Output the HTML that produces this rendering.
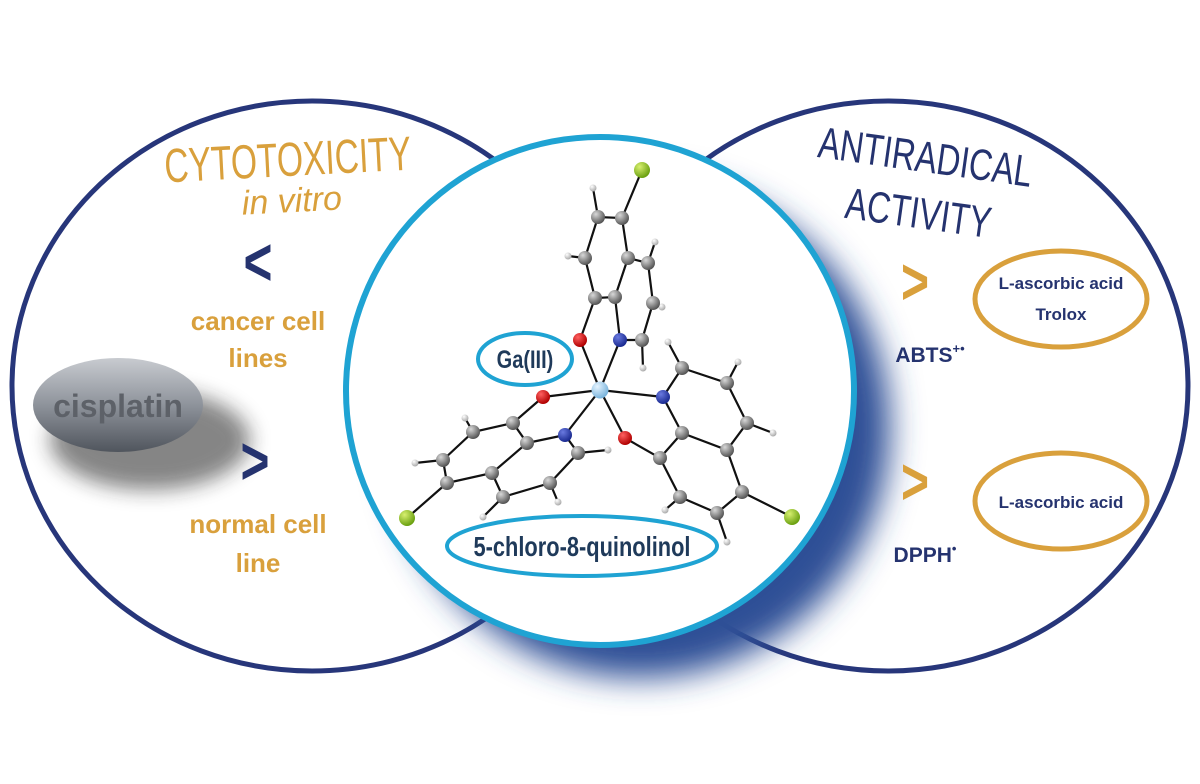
<!DOCTYPE html>
<html><head><meta charset="utf-8"><style>
html,body{margin:0;padding:0;background:#fff;}
svg{display:block;}
.or{fill:#d9a03c;}
.nv{fill:#25336f;}
</style></head><body>
<svg width="1200" height="784" viewBox="0 0 1200 784" xmlns="http://www.w3.org/2000/svg">
<defs>
<filter id="blur" x="-30%" y="-30%" width="160%" height="160%"><feGaussianBlur stdDeviation="16"/></filter>
<filter id="blur2" x="-30%" y="-30%" width="160%" height="160%"><feGaussianBlur stdDeviation="10"/></filter>
<radialGradient id="gC" cx="35%" cy="30%" r="70%"><stop offset="0" stop-color="#d8d8d8"/><stop offset="1" stop-color="#555"/></radialGradient>
<radialGradient id="gH" cx="35%" cy="30%" r="70%"><stop offset="0" stop-color="#fff"/><stop offset="1" stop-color="#aaa"/></radialGradient>
<radialGradient id="gO" cx="35%" cy="30%" r="70%"><stop offset="0" stop-color="#ff6060"/><stop offset="1" stop-color="#b00000"/></radialGradient>
<radialGradient id="gN" cx="35%" cy="30%" r="70%"><stop offset="0" stop-color="#6a7ae0"/><stop offset="1" stop-color="#1a2a90"/></radialGradient>
<radialGradient id="gCl" cx="35%" cy="30%" r="70%"><stop offset="0" stop-color="#d8f070"/><stop offset="1" stop-color="#6aa010"/></radialGradient>
<radialGradient id="gGa" cx="35%" cy="30%" r="70%"><stop offset="0" stop-color="#e6f4ff"/><stop offset="1" stop-color="#7ab4dc"/></radialGradient>
<linearGradient id="gCis" x1="0" y1="0" x2="0" y2="1"><stop offset="0" stop-color="#c8cbd0"/><stop offset="0.5" stop-color="#8e939b"/><stop offset="1" stop-color="#50555d"/></linearGradient>
</defs>

<ellipse cx="312" cy="386" rx="300" ry="285" fill="#fff" stroke="#27367a" stroke-width="5"/>
<ellipse cx="888" cy="386" rx="300" ry="285" fill="#fff" stroke="#27367a" stroke-width="5"/>

<circle cx="640" cy="428" r="250" fill="#2d4f96" filter="url(#blur)"/>
<circle cx="600" cy="391" r="254" fill="#fff" stroke="#1fa3d3" stroke-width="6"/>

<text x="288" y="176" text-anchor="middle" class="or" font-family="Liberation Sans Narrow, Liberation Sans, sans-serif" font-size="48" transform="rotate(-3 288 165) translate(288 0) scale(0.7 1) translate(-288 0)">CYTOTOXICITY</text>
<text x="292" y="212" text-anchor="middle" class="or" font-family="Liberation Sans, sans-serif" font-style="italic" font-size="34" transform="rotate(-3 292 204)">in vitro</text>
<text x="258" y="285" text-anchor="middle" class="nv" font-family="Liberation Sans, sans-serif" font-weight="bold" font-size="62" transform="translate(258 285) scale(0.8 1.1) translate(-258 -285)">&lt;</text>
<text x="258" y="330" text-anchor="middle" class="or" font-family="Liberation Sans, sans-serif" font-weight="bold" font-size="26">cancer cell</text>
<text x="258" y="367" text-anchor="middle" class="or" font-family="Liberation Sans, sans-serif" font-weight="bold" font-size="26">lines</text>
<ellipse cx="150" cy="440" rx="100" ry="50" fill="#222" opacity="0.55" filter="url(#blur2)"/>
<ellipse cx="118" cy="405" rx="85" ry="47" fill="url(#gCis)"/>
<text x="118" y="417" text-anchor="middle" fill="#5d6168" font-family="Liberation Sans, sans-serif" font-weight="bold" font-size="32">cisplatin</text>
<text x="255" y="484" text-anchor="middle" class="nv" font-family="Liberation Sans, sans-serif" font-weight="bold" font-size="62" transform="translate(255 484) scale(0.8 1.1) translate(-255 -484)">&gt;</text>
<text x="258" y="533" text-anchor="middle" class="or" font-family="Liberation Sans, sans-serif" font-weight="bold" font-size="26">normal cell</text>
<text x="258" y="572" text-anchor="middle" class="or" font-family="Liberation Sans, sans-serif" font-weight="bold" font-size="26">line</text>

<text x="925" y="172" text-anchor="middle" class="nv" font-family="Liberation Sans Narrow, Liberation Sans, sans-serif" font-size="44" transform="rotate(8 925 160) translate(925 0) scale(0.74 1) translate(-925 0)">ANTIRADICAL</text>
<text x="918" y="228" text-anchor="middle" class="nv" font-family="Liberation Sans Narrow, Liberation Sans, sans-serif" font-size="44" transform="rotate(8 918 216) translate(918 0) scale(0.74 1) translate(-918 0)">ACTIVITY</text>
<text x="915" y="304" text-anchor="middle" class="or" font-family="Liberation Sans, sans-serif" font-weight="bold" font-size="60" transform="translate(915 304) scale(0.8 1.1) translate(-915 -304)">&gt;</text>
<text x="930" y="362" text-anchor="middle" class="nv" font-family="Liberation Sans, sans-serif" font-weight="bold" font-size="21">ABTS<tspan font-size="13" dy="-9">+•</tspan></text>
<ellipse cx="1061" cy="299" rx="86" ry="48" fill="none" stroke="#d9a03c" stroke-width="5"/>
<text x="1061" y="289" text-anchor="middle" class="nv" font-family="Liberation Sans, sans-serif" font-weight="bold" font-size="17">L-ascorbic acid</text>
<text x="1061" y="320" text-anchor="middle" class="nv" font-family="Liberation Sans, sans-serif" font-weight="bold" font-size="17">Trolox</text>
<text x="915" y="504" text-anchor="middle" class="or" font-family="Liberation Sans, sans-serif" font-weight="bold" font-size="60" transform="translate(915 504) scale(0.8 1.1) translate(-915 -504)">&gt;</text>
<text x="925" y="562" text-anchor="middle" class="nv" font-family="Liberation Sans, sans-serif" font-weight="bold" font-size="21">DPPH<tspan font-size="13" dy="-9">•</tspan></text>
<ellipse cx="1061" cy="501" rx="86" ry="48" fill="none" stroke="#d9a03c" stroke-width="5"/>
<text x="1061" y="508" text-anchor="middle" class="nv" font-family="Liberation Sans, sans-serif" font-weight="bold" font-size="17">L-ascorbic acid</text>

<g stroke="#111" stroke-width="2.2" fill="none">
<path d="M600 390L580 340M600 390L620 340M600 390L543 397M600 390L663 397M600 390L565 435M600 390L625 438"/>
<path d="M580 340L595 298L615 297L620 340L642 340L653 303L648 263L628 258L615 297M595 298L585 258L598 217L622 218L628 258M622 218L642 170M598 217L593 188M585 258L568 256M648 263L655 242M653 303L662 307M642 340L643 368"/>
<path d="M543 397L513 423L473 432L443 460L447 483L492 473L527 443L513 423M527 443L565 435L578 453L550 483L503 497L492 473M447 483L407 518M473 432L465 418M443 460L415 463M503 497L483 517M550 483L558 502M578 453L608 450"/>
<path d="M663 397L682 368L727 383L747 423L727 450L682 433L663 397M682 433L660 458L625 438M660 458L680 497L717 513L742 492L727 450M742 492L792 517M682 368L668 342M727 383L738 362M747 423L773 433M680 497L665 510M717 513L727 542"/>
</g>
<g>
<g fill="url(#gH)">
<circle cx="593" cy="188" r="3.5"/><circle cx="568" cy="256" r="3.5"/><circle cx="655" cy="242" r="3.5"/><circle cx="662" cy="307" r="3.5"/><circle cx="643" cy="368" r="3.5"/>
<circle cx="465" cy="418" r="3.5"/><circle cx="415" cy="463" r="3.5"/><circle cx="483" cy="517" r="3.5"/><circle cx="558" cy="502" r="3.5"/><circle cx="608" cy="450" r="3.5"/>
<circle cx="668" cy="342" r="3.5"/><circle cx="738" cy="362" r="3.5"/><circle cx="773" cy="433" r="3.5"/><circle cx="665" cy="510" r="3.5"/><circle cx="727" cy="542" r="3.5"/>
</g>
<g fill="url(#gC)">
<circle cx="595" cy="298" r="7"/><circle cx="615" cy="297" r="7"/><circle cx="585" cy="258" r="7"/><circle cx="628" cy="258" r="7"/><circle cx="598" cy="217" r="7"/><circle cx="622" cy="218" r="7"/><circle cx="648" cy="263" r="7"/><circle cx="653" cy="303" r="7"/><circle cx="642" cy="340" r="7"/>
<circle cx="513" cy="423" r="7"/><circle cx="527" cy="443" r="7"/><circle cx="473" cy="432" r="7"/><circle cx="443" cy="460" r="7"/><circle cx="447" cy="483" r="7"/><circle cx="492" cy="473" r="7"/><circle cx="503" cy="497" r="7"/><circle cx="550" cy="483" r="7"/><circle cx="578" cy="453" r="7"/>
<circle cx="682" cy="368" r="7"/><circle cx="727" cy="383" r="7"/><circle cx="747" cy="423" r="7"/><circle cx="727" cy="450" r="7"/><circle cx="682" cy="433" r="7"/><circle cx="660" cy="458" r="7"/><circle cx="680" cy="497" r="7"/><circle cx="717" cy="513" r="7"/><circle cx="742" cy="492" r="7"/>
</g>
<g fill="url(#gO)"><circle cx="580" cy="340" r="7"/><circle cx="543" cy="397" r="7"/><circle cx="625" cy="438" r="7"/></g>
<g fill="url(#gN)"><circle cx="620" cy="340" r="7"/><circle cx="663" cy="397" r="7"/><circle cx="565" cy="435" r="7"/></g>
<g fill="url(#gCl)"><circle cx="642" cy="170" r="8"/><circle cx="407" cy="518" r="8"/><circle cx="792" cy="517" r="8"/></g>
<circle cx="600" cy="390" r="8.5" fill="url(#gGa)"/>
</g>

<ellipse cx="525" cy="359" rx="47" ry="26" fill="#fff" stroke="#1fa3d3" stroke-width="4"/>
<text x="525" y="368" text-anchor="middle" fill="#1f3a5a" font-family="Liberation Sans Narrow, Liberation Sans, sans-serif" font-weight="bold" font-size="25" transform="translate(525 0) scale(0.8 1) translate(-525 0)">Ga(III)</text>
<ellipse cx="582" cy="546" rx="135" ry="30" fill="#fff" stroke="#1fa3d3" stroke-width="4"/>
<text x="582" y="556" text-anchor="middle" fill="#1f3a5a" font-family="Liberation Sans Narrow, Liberation Sans, sans-serif" font-weight="bold" font-size="28" transform="translate(582 0) scale(0.78 1) translate(-582 0)">5-chloro-8-quinolinol</text>
</svg>
</body></html>
